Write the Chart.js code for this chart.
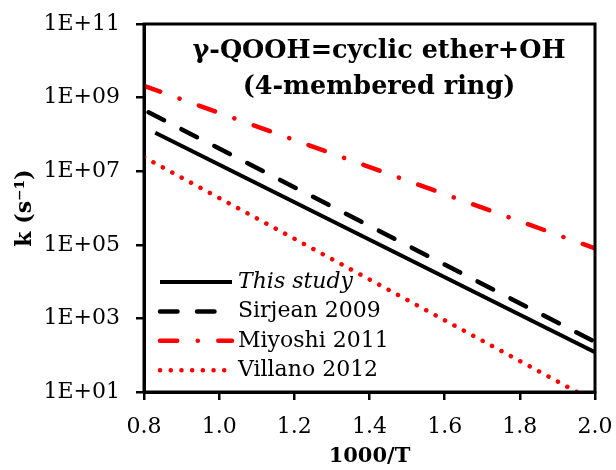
<!DOCTYPE html>
<html><head><meta charset="utf-8">
<script src="https://cdn.jsdelivr.net/npm/chart.js@4/dist/chart.umd.min.js"></script>
<style>html,body{margin:0;padding:0;background:#fff}</style>
</head><body>
<canvas id="c" width="616" height="470"></canvas>
<script>
// ---- data ----
const seriesNames = ['This study', 'Sirjean 2009', 'Miyoshi 2011', 'Villano 2012'];
const thisStudyX = [0.83, 2.0];
const thisStudyK = [1.11e8, 1.2e2];
const sirjeanX = [0.812, 2.0];
const sirjeanK = [4.0e8, 2.3e2];
const miyoshiX = [0.8, 2.0];
const miyoshiK = [2.1e9, 8.0e4];
const villanoX = [0.8, 1.952];
const villanoK = [2.4e7, 1.0e1];
const xTicks = [0.8, 1.0, 1.2, 1.4, 1.6, 1.8, 2.0];
const yTicks = [1e1, 1e3, 1e5, 1e7, 1e9, 1e11];
const yTickLabels = ['1E+01', '1E+03', '1E+05', '1E+07', '1E+09', '1E+11'];
const titleLines = ['γ-QOOH=cyclic ether+OH', '(4-membered ring)'];
const xTitle = '1000/T';
const yTitle = 'k (s⁻¹)';

const FONT = 'DejaVu Serif';
const pts = (xs, ks) => xs.map((x, i) => ({x: x, y: ks[i]}));

const framePlugin = {
  id: 'frame',
  afterDraw(chart) {
    const {ctx, chartArea: a} = chart;
    ctx.save();
    ctx.strokeStyle = '#000';
    ctx.lineWidth = 3;
    ctx.strokeRect(a.left, a.top, a.right - a.left, a.bottom - a.top);
    ctx.restore();
  }
};

const innerTitlePlugin = {
  id: 'innerTitle',
  afterDraw(chart) {
    const {ctx, chartArea: a} = chart;
    ctx.save();
    ctx.fillStyle = '#000';
    ctx.font = 'bold 25.5px "' + FONT + '"';
    ctx.textAlign = 'center';
    ctx.textBaseline = 'middle';
    const cx = a.left + 235;
    ctx.fillText(titleLines[0], cx, a.top + 27);
    ctx.fillText(titleLines[1], cx, a.top + 63);
    ctx.restore();
  }
};

const innerLegendPlugin = {
  id: 'innerLegend',
  afterDraw(chart) {
    const {ctx, chartArea: a} = chart;
    const ds = chart.data.datasets;
    const x0 = a.left + 16, x1 = a.left + 88, tx = a.left + 94;
    const y0 = a.top + 258, dy = 29.4;
    ctx.save();
    ds.forEach((d, i) => {
      const y = y0 + i * dy;
      ctx.strokeStyle = d.borderColor;
      ctx.lineWidth = d.borderWidth;
      ctx.lineCap = d.borderCapStyle || 'butt';
      ctx.setLineDash(d.borderDash || []);
      ctx.beginPath();
      ctx.moveTo(x0, y);
      ctx.lineTo(x1, y);
      ctx.stroke();
      ctx.setLineDash([]);
      ctx.fillStyle = '#000';
      ctx.font = (i === 0 ? 'italic ' : '') + '22px "' + FONT + '"';
      ctx.textAlign = 'left';
      ctx.textBaseline = 'middle';
      ctx.fillText(d.label, tx, y);
    });
    ctx.restore();
  }
};

Chart.defaults.color = '#000';
Chart.defaults.font.family = FONT;

new Chart(document.getElementById('c'), {
  type: 'line',
  data: {
    datasets: [
      {label: seriesNames[0], data: pts(thisStudyX, thisStudyK), borderColor: '#000', borderWidth: 4, borderCapStyle: 'butt', pointRadius: 0},
      {label: seriesNames[1], data: pts(sirjeanX, sirjeanK), borderColor: '#000', borderWidth: 4.5, borderCapStyle: 'round', borderDash: [17.5, 19.5], pointRadius: 0},
      {label: seriesNames[2], data: pts(miyoshiX, miyoshiK), borderColor: '#ff0000', borderWidth: 4.5, borderCapStyle: 'round', borderDash: [17.2, 20.5, 0.1, 20.5], pointRadius: 0},
      {label: seriesNames[3], data: pts(villanoX, villanoK), borderColor: '#ff0000', borderWidth: 4.5, borderCapStyle: 'round', borderDash: [0.1, 10.6], pointRadius: 0}
    ]
  },
  options: {
    responsive: false,
    devicePixelRatio: 1,
    animation: false,
    layout: {padding: {left: 0, right: 21, top: 24, bottom: 0}},
    plugins: {legend: {display: false}, tooltip: {enabled: false}, title: {display: false}},
    scales: {
      x: {
        type: 'linear', min: 0.8, max: 2.0,
        afterBuildTicks: s => { s.ticks = xTicks.map(v => ({value: v})); },
        afterFit: s => { s.height = 78; s.paddingLeft = 0; s.paddingRight = 0; },
        ticks: {callback: v => Number(v).toFixed(1), font: {size: 22}, color: '#000', padding: 14, maxRotation: 0},
        grid: {drawOnChartArea: false, drawTicks: true, tickLength: 8, color: '#000', lineWidth: 2.5},
        border: {color: '#000', width: 3},
        title: {display: true, text: xTitle, font: {size: 21, weight: 'bold'}, color: '#000', padding: {top: 0, bottom: 1}}
      },
      y: {
        type: 'logarithmic', min: 10, max: 1e11,
        afterBuildTicks: s => { s.ticks = yTicks.map(v => ({value: v})); },
        afterFit: s => { s.width = 144; s.paddingTop = 0; s.paddingBottom = 0; },
        ticks: {callback: (v, i) => yTickLabels[i], font: {size: 22}, color: '#000', padding: 16},
        grid: {drawOnChartArea: false, drawTicks: true, tickLength: 8, color: '#000', lineWidth: 2.5},
        border: {color: '#000', width: 3},
        title: {display: true, text: yTitle, font: {size: 22, weight: 'bold'}, color: '#000', padding: {top: 12, bottom: 0}}
      }
    }
  },
  plugins: [framePlugin, innerTitlePlugin, innerLegendPlugin]
});
</script>
</body></html>
